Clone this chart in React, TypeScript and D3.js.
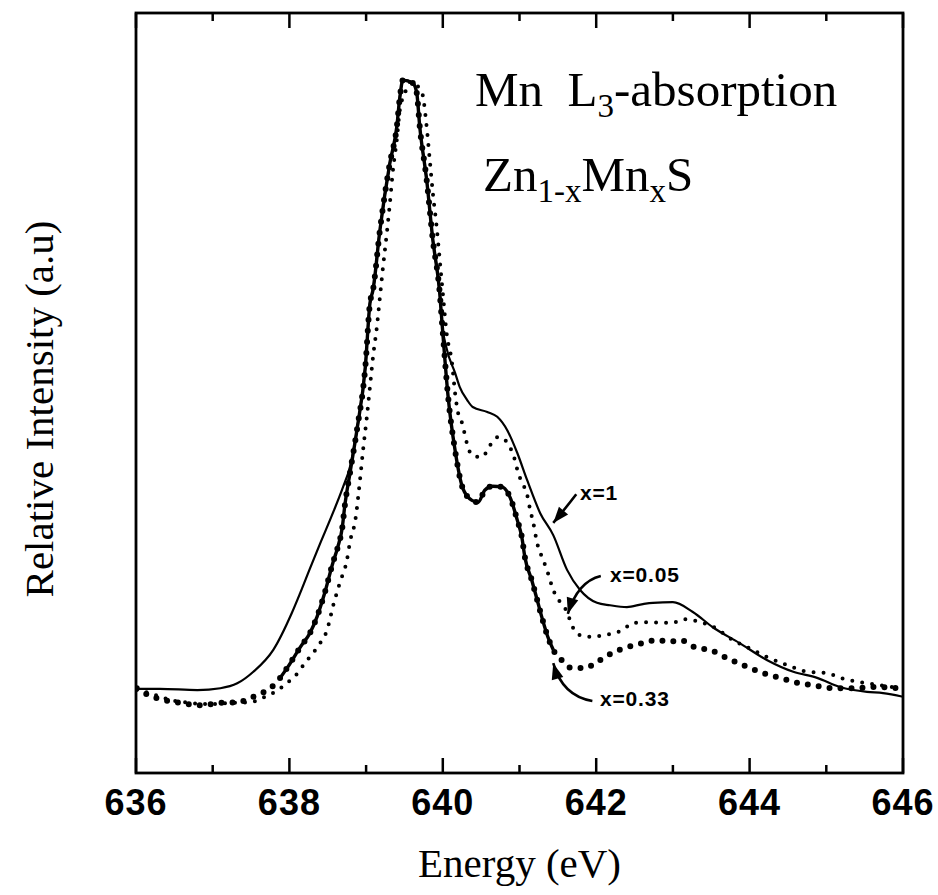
import React from 'react';
import * as d3 from 'd3';

const W = 938;
const H = 895;

const xMajorTicks = [636, 638, 640, 642, 644, 646];
const xMinorTicks = [637, 639, 641, 643, 645];

// x = 1 (solid line)
const x1Energy = [636.01, 636.31, 636.8, 637.1, 637.32, 637.53, 637.79, 638.03, 638.14, 638.27, 638.4, 638.55, 638.7, 638.79, 638.88, 638.99, 639.05, 639.09, 639.18, 639.31, 639.4, 639.44, 639.48, 639.61, 639.66, 639.7, 639.79, 639.87, 639.96, 639.99, 640.05, 640.16, 640.22, 640.32, 640.39, 640.58, 640.71, 640.84, 640.97, 641.1, 641.27, 641.44, 641.62, 641.79, 642.01, 642.18, 642.4, 642.61, 642.74, 643.0, 643.26, 643.52, 643.87, 644.23, 644.57, 644.88, 645.18, 645.53, 645.74, 646.0];
const x1Intensity = [0.002, 0.002, 0.0, 0.003, 0.011, 0.03, 0.066, 0.126, 0.159, 0.2, 0.24, 0.285, 0.333, 0.366, 0.426, 0.53, 0.634, 0.656, 0.754, 0.864, 0.923, 0.972, 1.0, 0.995, 0.979, 0.923, 0.836, 0.738, 0.651, 0.602, 0.56, 0.52, 0.497, 0.475, 0.464, 0.456, 0.448, 0.426, 0.389, 0.344, 0.29, 0.254, 0.197, 0.164, 0.143, 0.139, 0.136, 0.141, 0.143, 0.144, 0.128, 0.103, 0.077, 0.049, 0.03, 0.02, 0.005, -0.003, -0.005, -0.011];

// x = 0.05 (small dots)
const x005Energy = [636.01, 636.18, 636.44, 636.7, 636.96, 637.23, 637.49, 637.68, 637.85, 638.01, 638.11, 638.2, 638.31, 638.4, 638.49, 638.57, 638.66, 638.75, 638.79, 638.86, 638.92, 638.96, 639.01, 639.05, 639.09, 639.14, 639.18, 639.22, 639.27, 639.31, 639.35, 639.4, 639.44, 639.51, 639.57, 639.64, 639.73, 639.79, 639.83, 639.87, 639.92, 639.96, 640.0, 640.05, 640.12, 640.16, 640.2, 640.25, 640.32, 640.38, 640.51, 640.62, 640.72, 640.81, 640.88, 640.94, 640.98, 641.03, 641.1, 641.14, 641.18, 641.23, 641.31, 641.37, 641.44, 641.53, 641.62, 641.68, 641.79, 641.95, 642.09, 642.22, 642.34, 642.48, 642.7, 642.99, 643.13, 643.39, 643.55, 643.78, 644.04, 644.23, 644.49, 644.75, 645.01, 645.18, 645.44, 645.7, 645.96];
const x005Intensity = [0.0, -0.005, -0.016, -0.021, -0.023, -0.021, -0.02, -0.011, 0.0, 0.016, 0.028, 0.044, 0.061, 0.077, 0.098, 0.138, 0.177, 0.213, 0.243, 0.279, 0.344, 0.393, 0.448, 0.497, 0.546, 0.595, 0.644, 0.693, 0.749, 0.798, 0.852, 0.902, 0.951, 0.98, 0.997, 0.993, 0.979, 0.923, 0.869, 0.815, 0.759, 0.705, 0.651, 0.585, 0.536, 0.487, 0.454, 0.438, 0.402, 0.385, 0.382, 0.402, 0.415, 0.41, 0.397, 0.377, 0.357, 0.341, 0.32, 0.295, 0.274, 0.241, 0.213, 0.192, 0.164, 0.144, 0.128, 0.107, 0.09, 0.087, 0.09, 0.093, 0.098, 0.11, 0.111, 0.11, 0.116, 0.11, 0.102, 0.082, 0.066, 0.054, 0.041, 0.03, 0.028, 0.02, 0.013, 0.008, 0.003];

// x = 0.33 (thick line with large dots)
const x033Energy = [636.01, 636.16, 636.35, 636.57, 636.87, 637.07, 637.32, 637.58, 637.77, 637.88, 637.98, 638.14, 638.27, 638.36, 638.46, 638.57, 638.63, 638.69, 638.72, 638.79, 638.88, 638.99, 639.05, 639.09, 639.18, 639.31, 639.4, 639.44, 639.48, 639.61, 639.66, 639.7, 639.79, 639.87, 639.96, 639.99, 640.07, 640.16, 640.26, 640.38, 640.46, 640.55, 640.65, 640.77, 640.88, 640.97, 641.03, 641.07, 641.16, 641.23, 641.29, 641.37, 641.44, 641.55, 641.68, 641.85, 642.01, 642.21, 642.4, 642.61, 642.79, 642.96, 643.09, 643.31, 643.48, 643.71, 643.91, 644.17, 644.4, 644.66, 644.83, 645.09, 645.35, 645.61, 645.96];
const x033Intensity = [0.003, -0.008, -0.016, -0.021, -0.025, -0.021, -0.02, -0.008, 0.005, 0.02, 0.038, 0.07, 0.094, 0.12, 0.159, 0.21, 0.234, 0.267, 0.3, 0.356, 0.426, 0.53, 0.634, 0.656, 0.754, 0.864, 0.923, 0.972, 1.0, 0.995, 0.979, 0.923, 0.836, 0.738, 0.651, 0.602, 0.48, 0.393, 0.331, 0.311, 0.308, 0.328, 0.334, 0.333, 0.315, 0.279, 0.251, 0.218, 0.18, 0.148, 0.12, 0.087, 0.066, 0.049, 0.036, 0.036, 0.046, 0.061, 0.07, 0.077, 0.082, 0.079, 0.082, 0.069, 0.066, 0.052, 0.041, 0.028, 0.02, 0.011, 0.008, 0.003, 0.003, 0.005, 0.003];

// annotations: label, text anchor and arrow (start, control, tip) in data units
const annoLabels = ['x=1', 'x=0.05', 'x=0.33'];
const annoText = [[641.79, 0.311], [642.18, 0.177], [642.05, -0.026]];
const annoArrow = [
  [[641.74, 0.321], [641.6, 0.298], [641.44, 0.274]],
  [[642.06, 0.187], [641.76, 0.178], [641.63, 0.125]],
  [[641.95, -0.018], [641.56, -0.01], [641.44, 0.044]],
];

const serif = '"Liberation Serif", "Times New Roman", serif';
const sans = '"Liberation Sans", Arial, sans-serif';

export default function App() {
  const x = d3.scaleLinear().domain([636, 646]).range([136, 903]);
  const y = d3.scaleLinear().domain([-0.136, 1.11]).range([773, 13]);
  const [x0, x1] = x.range();
  const [yb, yt] = y.range();

  const toPts = (es: number[], is: number[]) => es.map((e, i) => [e, is[i]] as [number, number]);
  const line = d3
    .line<[number, number]>()
    .x((d) => x(d[0]))
    .y((d) => y(d[1]))
    .curve(d3.curveMonotoneX);

  const p1 = toPts(x1Energy, x1Intensity);
  const p005 = toPts(x005Energy, x005Intensity);
  const p033 = toPts(x033Energy, x033Intensity);
  const p033Mid = p033.filter((d) => d[0] >= 637.85 && d[0] <= 641.45);

  const arrowPath = (pts: number[][]) => {
    const [s, c, t] = pts;
    return `M${x(s[0])},${y(s[1])} Q${x(c[0])},${y(c[1])} ${x(t[0])},${y(t[1])}`;
  };
  const arrowHead = (pts: number[][], len: number, wid: number) => {
    const [, c, t] = pts;
    const tx = x(t[0]);
    const ty = y(t[1]);
    const cx = x(c[0]);
    const cy = y(c[1]);
    const dx = tx - cx;
    const dy = ty - cy;
    const L = Math.hypot(dx, dy) || 1;
    const ux = dx / L;
    const uy = dy / L;
    const bx = tx - ux * len;
    const by = ty - uy * len;
    return `M${tx},${ty} L${bx - uy * wid},${by + ux * wid} L${bx + uy * wid},${by - ux * wid} Z`;
  };

  return (
    <svg
      width={W}
      height={H}
      viewBox={`0 0 ${W} ${H}`}
      style={{ position: 'absolute', left: 0, top: 0, background: '#fff' }}
    >
      <defs>
        <clipPath id="plotClip">
          <rect x={x0} y={yt} width={x1 - x0} height={yb - yt} />
        </clipPath>
      </defs>
      <rect x={0} y={0} width={W} height={H} fill="#fff" />

      <g clipPath="url(#plotClip)" fill="none" stroke="#000">
        {/* x = 1 */}
        <path d={line(p1) || ''} strokeWidth={2.2} strokeLinejoin="round" />
        {/* x = 0.05 */}
        <path d={line(p005) || ''} strokeWidth={4} strokeLinecap="round" strokeDasharray="0 10" />
        {/* x = 0.33 */}
        <path d={line(p033Mid) || ''} strokeWidth={3.4} strokeLinejoin="round" />
        <path d={line(p033) || ''} strokeWidth={6} strokeLinecap="round" strokeDasharray="0 11" />
      </g>

      {/* frame */}
      <rect x={x0} y={yt} width={x1 - x0} height={yb - yt} fill="none" stroke="#000" strokeWidth={2.8} />

      {/* ticks */}
      <g stroke="#000" strokeWidth={2.5}>
        {xMajorTicks.map((t) => (
          <g key={'M' + t}>
            <line x1={x(t)} x2={x(t)} y1={yb} y2={yb - 15} />
            <line x1={x(t)} x2={x(t)} y1={yt} y2={yt + 15} />
          </g>
        ))}
        {xMinorTicks.map((t) => (
          <g key={'m' + t}>
            <line x1={x(t)} x2={x(t)} y1={yb} y2={yb - 8} />
            <line x1={x(t)} x2={x(t)} y1={yt} y2={yt + 8} />
          </g>
        ))}
      </g>
      <g fontFamily={sans} fontWeight="bold" fontSize={36} textAnchor="middle" fill="#000">
        {xMajorTicks.map((t) => (
          <text key={'l' + t} x={x(t)} y={815} letterSpacing={1}>
            {t}
          </text>
        ))}
      </g>

      {/* axis titles */}
      <text x={(x0 + x1) / 2} y={877} fontFamily={serif} fontSize={41} textAnchor="middle">
        Energy (eV)
      </text>
      <text
        transform={`translate(53, 409) rotate(-90)`}
        fontFamily={serif}
        fontSize={41}
        textAnchor="middle"
      >
        Relative Intensity (a.u)
      </text>

      {/* title */}
      <text x={475} y={106} fontFamily={serif} fontSize={49}>
        Mn{'\u00a0\u00a0'}L<tspan fontSize={33} dy={11}>3</tspan>
        <tspan dy={-11}>-absorption</tspan>
      </text>
      <text x={483} y={191} fontFamily={serif} fontSize={49}>
        Zn<tspan fontSize={33} dy={11}>1-x</tspan>
        <tspan dy={-11}>Mn</tspan>
        <tspan fontSize={33} dy={11}>x</tspan>
        <tspan dy={-11}>S</tspan>
      </text>

      {/* annotations */}
      {annoLabels.map((lab, i) => (
        <g key={lab}>
          <text
            x={x(annoText[i][0])}
            y={y(annoText[i][1])}
            fontFamily={sans}
            fontWeight="bold"
            fontSize={21}
            letterSpacing={0.8}
          >
            {lab}
          </text>
          <path d={arrowPath(annoArrow[i])} fill="none" stroke="#000" strokeWidth={2.6} />
          <path d={arrowHead(annoArrow[i], 16, 6)} fill="#000" />
        </g>
      ))}
    </svg>
  );
}
